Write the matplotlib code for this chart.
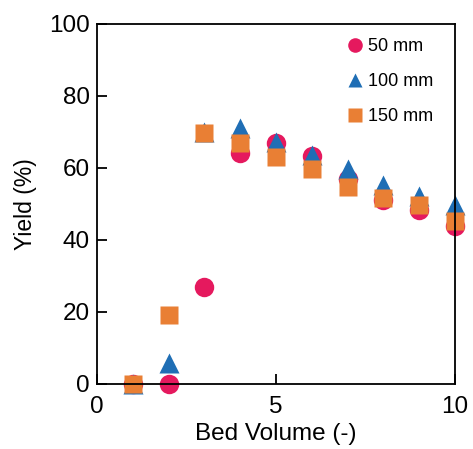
import matplotlib
matplotlib.use("Agg")
from matplotlib import pyplot as plt

# Data
bed_volume = [1, 2, 3, 4, 5, 6, 7, 8, 9, 10]
yield_50 = [0.0, 0.0, 26.9, 64.0, 66.8, 63.4, 57.0, 51.2, 48.4, 43.8]
yield_100 = [0.0, 5.7, 70.0, 71.0, 67.3, 63.6, 59.6, 55.3, 52.3, 49.6]
yield_150 = [0.0, 19.0, 69.8, 66.8, 63.1, 59.6, 54.8, 51.6, 49.8, 45.2]

labels = ["50 mm", "100 mm", "150 mm"]
colors = ["#E5195E", "#1F6EB5", "#E97F34"]

plt.rcParams['font.family'] = ['Liberation Sans', 'DejaVu Sans']

fig = plt.figure(figsize=(4.73, 4.49), dpi=100)
ax = fig.add_axes([0.205, 0.145, 0.757, 0.802])

ax.plot(bed_volume, yield_50, "o", ms=14, color=colors[0], mec="none", label=labels[0], clip_on=False)
ax.plot(bed_volume, yield_100, "^", ms=14, color=colors[1], mec="none", label=labels[1], clip_on=False)
ax.plot(bed_volume, yield_150, "s", ms=12.5, color=colors[2], mec="none", label=labels[2], clip_on=False)

ax.set_xlim(0, 10)
ax.set_ylim(0, 100)
ax.set_xticks([0, 5, 10])
ax.set_yticks([0, 20, 40, 60, 80, 100])
ax.tick_params(direction="in", length=7, width=1.3, labelsize=17.5)
ax.tick_params(axis="x", pad=9)
ax.tick_params(axis="y", pad=5)
for s in ax.spines.values():
    s.set_linewidth(1.3)

ax.set_xlabel("Bed Volume (-)", fontsize=17.5, labelpad=3)
ax.set_ylabel("Yield (%)", fontsize=16.5, labelpad=9)

leg = ax.legend(loc="upper right", bbox_to_anchor=(0.985, 1.005), frameon=False,
                fontsize=13, handletextpad=0.0, labelspacing=1.0,
                handlelength=1.5, markerscale=0.75)

fig.savefig("out.png", dpi=100)
